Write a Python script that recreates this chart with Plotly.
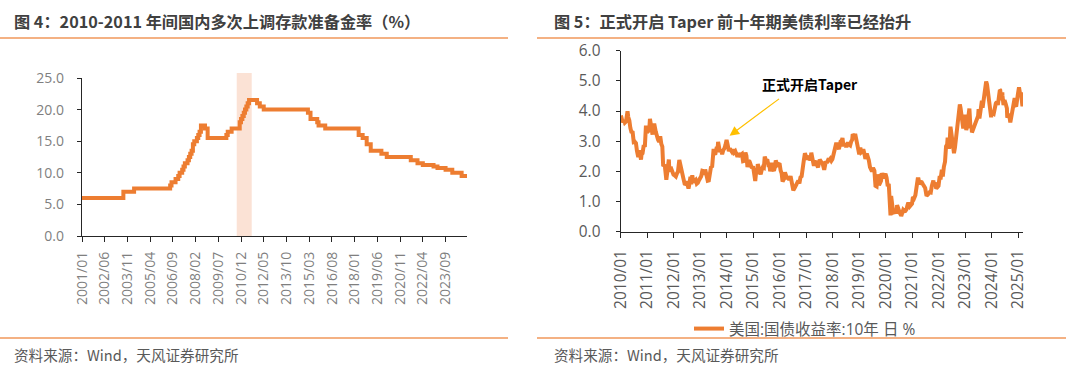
import plotly.graph_objects as go

# ---------------- data: left chart (RRR, %) ----------------
rrr_dates = ["2001-01-01", "2003-08-01", "2004-04-01", "2006-07-01", "2006-08-01", "2006-11-01",
             "2007-01-01", "2007-02-01", "2007-04-01", "2007-05-01", "2007-06-01", "2007-08-01",
             "2007-09-01", "2007-10-01", "2007-11-01", "2007-12-01", "2008-01-01", "2008-03-01",
             "2008-04-01", "2008-05-01", "2008-06-01", "2008-09-01", "2008-11-01", "2010-01-01",
             "2010-02-01", "2010-05-01", "2010-11-01", "2010-12-01", "2011-01-01", "2011-02-01",
             "2011-03-01", "2011-04-01", "2011-05-01", "2011-06-01", "2011-12-01", "2012-02-01",
             "2012-05-01", "2015-02-01", "2015-04-01", "2015-09-01", "2015-10-01", "2016-03-01",
             "2018-04-01", "2018-07-01", "2018-10-01", "2019-01-01", "2019-09-01", "2020-01-01",
             "2021-07-01", "2021-12-01", "2022-04-01", "2022-12-01", "2023-03-01", "2023-09-01",
             "2024-02-01", "2024-09-01", "2025-01-01"]
rrr_values = [6.0, 7.0, 7.5, 8.0, 8.5, 9.0,
              9.5, 10.0, 10.5, 11.0, 11.5, 12.0,
              12.5, 13.0, 13.5, 14.5, 15.0, 15.5,
              16.0, 16.5, 17.5, 17.0, 15.5, 16.0,
              16.5, 17.0, 18.0, 18.5, 19.0, 19.5,
              20.0, 20.5, 21.0, 21.5, 21.0, 20.5,
              20.0, 19.5, 18.5, 18.0, 17.5, 17.0,
              16.0, 15.5, 14.5, 13.5, 13.0, 12.5,
              12.0, 11.5, 11.25, 11.0, 10.75, 10.5,
              10.0, 9.5, 9.5]
left_ticks = ["2001/01", "2002/06", "2003/11", "2005/04", "2006/09", "2008/02", "2009/07",
              "2010/12", "2012/05", "2013/10", "2015/03", "2016/08", "2018/01", "2019/06",
              "2020/11", "2022/04", "2023/09"]
left_yticks = [0, 5, 10, 15, 20, 25]

# ---------------- data: right chart (US 10Y yield, %) ----------------
ust_dates = [
    "2010-01-04", "2010-01-15", "2010-01-29", "2010-02-12", "2010-02-26", "2010-03-15", "2010-03-31",
    "2010-04-05", "2010-04-15", "2010-04-30", "2010-05-14", "2010-05-28", "2010-06-15", "2010-06-30",
    "2010-07-15", "2010-07-30", "2010-08-13", "2010-08-25", "2010-08-31", "2010-09-15", "2010-09-30",
    "2010-10-08", "2010-10-15", "2010-10-29", "2010-11-15", "2010-11-30", "2010-12-15", "2010-12-31",
    "2011-01-14", "2011-01-31", "2011-02-08", "2011-02-28", "2011-03-16", "2011-03-31", "2011-04-08",
    "2011-04-29", "2011-05-13", "2011-05-31", "2011-06-15", "2011-06-30", "2011-07-15", "2011-07-29",
    "2011-08-10", "2011-08-31", "2011-09-22", "2011-09-30", "2011-10-27", "2011-10-31", "2011-11-15",
    "2011-11-30", "2011-12-15", "2011-12-30",
    "2012-01-13", "2012-01-31", "2012-02-15", "2012-02-29", "2012-03-19", "2012-03-30", "2012-04-16",
    "2012-04-30", "2012-05-15", "2012-05-31", "2012-06-15", "2012-06-29", "2012-07-24", "2012-07-31",
    "2012-08-20", "2012-08-31", "2012-09-14", "2012-09-28", "2012-10-15", "2012-10-31", "2012-11-15",
    "2012-11-30", "2012-12-14", "2012-12-31",
    "2013-01-15", "2013-01-31", "2013-02-15", "2013-02-28", "2013-03-11", "2013-03-29", "2013-04-15",
    "2013-04-30", "2013-05-15", "2013-05-31", "2013-06-14", "2013-06-28", "2013-07-05", "2013-07-15",
    "2013-07-31", "2013-08-15", "2013-08-30", "2013-09-05", "2013-09-18", "2013-09-30", "2013-10-15",
    "2013-10-31", "2013-11-15", "2013-11-29", "2013-12-16", "2013-12-31",
    "2014-01-15", "2014-01-31", "2014-02-14", "2014-02-28", "2014-03-14", "2014-03-31", "2014-04-15",
    "2014-04-30", "2014-05-15", "2014-05-30", "2014-06-13", "2014-06-30", "2014-07-15", "2014-07-31",
    "2014-08-15", "2014-08-29", "2014-09-17", "2014-09-30", "2014-10-15", "2014-10-31", "2014-11-14",
    "2014-11-28", "2014-12-15", "2014-12-31",
    "2015-01-15", "2015-01-30", "2015-02-13", "2015-02-27", "2015-03-06", "2015-03-31", "2015-04-15",
    "2015-04-30", "2015-05-15", "2015-05-29", "2015-06-10", "2015-06-30", "2015-07-15", "2015-07-31",
    "2015-08-14", "2015-08-24", "2015-08-31", "2015-09-15", "2015-09-30", "2015-10-15", "2015-10-30",
    "2015-11-09", "2015-11-30", "2015-12-15", "2015-12-31",
    "2016-01-15", "2016-01-29", "2016-02-11", "2016-02-29", "2016-03-15", "2016-03-31", "2016-04-15",
    "2016-04-29", "2016-05-13", "2016-05-31", "2016-06-15", "2016-06-30", "2016-07-08", "2016-07-29",
    "2016-08-15", "2016-08-31", "2016-09-15", "2016-09-30", "2016-10-14", "2016-10-31", "2016-11-15",
    "2016-11-30", "2016-12-15", "2016-12-30",
    "2017-01-13", "2017-01-31", "2017-02-15", "2017-02-28", "2017-03-13", "2017-03-31", "2017-04-18",
    "2017-04-28", "2017-05-15", "2017-05-31", "2017-06-14", "2017-06-30", "2017-07-07", "2017-07-31",
    "2017-08-15", "2017-08-31", "2017-09-07", "2017-09-29", "2017-10-13", "2017-10-31", "2017-11-15",
    "2017-11-30", "2017-12-15", "2017-12-29",
    "2018-01-12", "2018-01-31", "2018-02-21", "2018-02-28", "2018-03-15", "2018-03-29", "2018-04-25",
    "2018-04-30", "2018-05-17", "2018-05-31", "2018-06-15", "2018-06-29", "2018-07-16", "2018-07-31",
    "2018-08-15", "2018-08-31", "2018-09-14", "2018-09-28", "2018-10-05", "2018-10-31", "2018-11-08",
    "2018-11-30", "2018-12-14", "2018-12-31",
    "2019-01-03", "2019-01-18", "2019-01-31", "2019-02-15", "2019-02-28", "2019-03-15", "2019-03-29",
    "2019-04-17", "2019-04-30", "2019-05-15", "2019-05-31", "2019-06-14", "2019-06-28", "2019-07-12",
    "2019-07-31", "2019-08-15", "2019-08-30", "2019-09-13", "2019-09-30", "2019-10-03", "2019-10-31",
    "2019-11-08", "2019-11-29", "2019-12-13", "2019-12-31",
    "2020-01-15", "2020-01-31", "2020-02-14", "2020-02-28", "2020-03-09", "2020-03-18", "2020-03-31",
    "2020-04-15", "2020-04-30", "2020-05-15", "2020-05-29", "2020-06-08", "2020-06-30", "2020-07-15",
    "2020-07-31", "2020-08-04", "2020-08-31", "2020-09-15", "2020-09-30", "2020-10-15", "2020-10-30",
    "2020-11-10", "2020-11-30", "2020-12-15", "2020-12-31",
    "2021-01-12", "2021-01-29", "2021-02-15", "2021-02-26", "2021-03-19", "2021-03-31", "2021-04-15",
    "2021-04-30", "2021-05-14", "2021-05-28", "2021-06-15", "2021-06-30", "2021-07-19", "2021-07-30",
    "2021-08-16", "2021-08-31", "2021-09-15", "2021-09-30", "2021-10-21", "2021-10-29", "2021-11-15",
    "2021-11-30", "2021-12-15", "2021-12-31",
    "2022-01-14", "2022-01-31", "2022-02-15", "2022-02-28", "2022-03-15", "2022-03-31", "2022-04-14",
    "2022-04-29", "2022-05-06", "2022-05-26", "2022-05-31", "2022-06-14", "2022-06-30", "2022-07-15",
    "2022-07-29", "2022-08-01", "2022-08-15", "2022-08-31", "2022-09-15", "2022-09-30", "2022-10-21",
    "2022-10-31", "2022-11-15", "2022-11-30", "2022-12-07", "2022-12-30",
    "2023-01-18", "2023-01-31", "2023-02-15", "2023-02-28", "2023-03-02", "2023-03-17", "2023-03-31",
    "2023-04-06", "2023-04-28", "2023-05-15", "2023-05-31", "2023-06-15", "2023-06-30", "2023-07-07",
    "2023-07-18", "2023-07-31", "2023-08-21", "2023-08-31", "2023-09-15", "2023-09-29", "2023-10-19",
    "2023-10-31", "2023-11-15", "2023-11-30", "2023-12-15", "2023-12-27", "2023-12-29",
    "2024-01-12", "2024-01-31", "2024-02-15", "2024-02-29", "2024-03-15", "2024-03-28", "2024-04-25",
    "2024-04-30", "2024-05-15", "2024-05-29", "2024-05-31", "2024-06-14", "2024-06-28", "2024-07-15",
    "2024-07-31", "2024-08-05", "2024-08-30", "2024-09-16", "2024-09-30", "2024-10-15", "2024-10-31",
    "2024-11-15", "2024-11-29", "2024-12-06", "2024-12-31",
    "2025-01-14", "2025-01-31", "2025-02-12", "2025-02-28", "2025-03-03", "2025-03-06", "2025-03-10"]
ust_values = [
    3.85, 3.68, 3.63, 3.69, 3.61, 3.65, 3.84,
    3.99, 3.80, 3.69, 3.44, 3.31, 3.29, 2.97,
    2.98, 2.94, 2.68, 2.50, 2.47, 2.70, 2.51,
    2.39, 2.56, 2.60, 2.87, 2.81, 3.52, 3.30,
    3.33, 3.42, 3.74, 3.43, 3.22, 3.47, 3.58,
    3.32, 3.17, 3.05, 2.98, 3.16, 2.91, 2.82,
    2.17, 2.22, 1.72, 1.92, 2.39, 2.17, 2.06,
    2.08, 1.91, 1.89,
    1.87, 1.83, 1.93, 1.98, 2.38, 2.23, 1.99,
    1.95, 1.76, 1.59, 1.58, 1.67, 1.43, 1.51,
    1.82, 1.57, 1.87, 1.65, 1.67, 1.72, 1.59,
    1.62, 1.70, 1.78,
    1.84, 2.02, 2.01, 1.89, 2.06, 1.87, 1.69,
    1.70, 1.94, 2.16, 2.13, 2.52, 2.74, 2.59,
    2.60, 2.77, 2.78, 2.98, 2.70, 2.64, 2.73,
    2.57, 2.70, 2.75, 2.88, 3.04,
    2.88, 2.67, 2.75, 2.66, 2.65, 2.73, 2.63,
    2.67, 2.50, 2.48, 2.60, 2.53, 2.55, 2.58,
    2.34, 2.35, 2.62, 2.52, 2.14, 2.35, 2.32,
    2.18, 2.11, 2.17,
    1.77, 1.68, 2.02, 2.00, 2.24, 1.94, 1.90,
    2.05, 2.14, 2.12, 2.49, 2.35, 2.40, 2.20,
    2.20, 2.00, 2.22, 2.28, 2.06, 2.02, 2.16,
    2.36, 2.21, 2.27, 2.27,
    2.03, 1.94, 1.66, 1.74, 1.97, 1.78, 1.75,
    1.83, 1.71, 1.84, 1.58, 1.49, 1.37, 1.46,
    1.55, 1.58, 1.69, 1.60, 1.80, 1.84, 2.22,
    2.37, 2.60, 2.45,
    2.40, 2.45, 2.50, 2.36, 2.62, 2.40, 2.18,
    2.29, 2.34, 2.21, 2.13, 2.31, 2.39, 2.30,
    2.27, 2.12, 2.05, 2.33, 2.28, 2.38, 2.37,
    2.42, 2.35, 2.40,
    2.55, 2.72, 2.95, 2.87, 2.82, 2.74, 3.03,
    2.95, 3.11, 2.83, 2.93, 2.85, 2.85, 2.96,
    2.89, 2.86, 2.99, 3.05, 3.23, 3.15, 3.24,
    3.01, 2.89, 2.69,
    2.56, 2.79, 2.63, 2.66, 2.73, 2.59, 2.41,
    2.59, 2.51, 2.37, 2.14, 2.09, 2.00, 2.12,
    2.02, 1.52, 1.50, 1.90, 1.68, 1.54, 1.69,
    1.94, 1.78, 1.82, 1.92,
    1.79, 1.51, 1.59, 1.13, 0.54, 1.18, 0.70,
    0.63, 0.64, 0.64, 0.65, 0.88, 0.66, 0.62,
    0.55, 0.52, 0.72, 0.68, 0.69, 0.74, 0.88,
    0.96, 0.84, 0.92, 0.93,
    1.15, 1.11, 1.21, 1.44, 1.74, 1.74, 1.57,
    1.65, 1.64, 1.58, 1.50, 1.45, 1.19, 1.24,
    1.26, 1.31, 1.30, 1.52, 1.70, 1.55, 1.63,
    1.43, 1.46, 1.52,
    1.79, 1.79, 2.05, 1.83, 2.15, 2.32, 2.83,
    2.89, 3.12, 2.75, 2.85, 3.48, 2.98, 2.93,
    2.67, 2.60, 2.79, 3.15, 3.45, 3.83, 4.22,
    4.10, 3.80, 3.68, 3.42, 3.88,
    3.37, 3.52, 3.81, 3.92, 4.08, 3.43, 3.48,
    3.29, 3.44, 3.50, 3.64, 3.72, 3.84, 4.06,
    3.75, 3.97, 4.34, 4.11, 4.33, 4.59, 4.98,
    4.88, 4.53, 4.37, 3.91, 3.79, 3.88,
    3.94, 3.91, 4.23, 4.25, 4.31, 4.20, 4.70,
    4.69, 4.36, 4.62, 4.51, 4.20, 4.36, 4.23,
    4.09, 3.78, 3.91, 3.62, 3.81, 4.03, 4.28,
    4.43, 4.17, 4.15, 4.58,
    4.79, 4.54, 4.62, 4.21, 4.16, 4.28, 4.22]
right_ticks = ["2010/01", "2011/01", "2012/01", "2013/01", "2014/01", "2015/01", "2016/01", "2017/01",
               "2018/01", "2019/01", "2020/01", "2021/01", "2022/01", "2023/01", "2024/01", "2025/01"]
right_yticks = [0, 1, 2, 3, 4, 5, 6]

# ---------------- styling ----------------
W, H = 1080, 368
ORANGE = "#ED7D31"
LINE_ORANGE = "#F4B183"
FONT = "Open Sans, Noto Sans CJK SC, sans-serif"
CJK = "Noto Sans CJK SC, sans-serif"
AX = "#262626"


def px(x):
    return x / W


def py(y):
    return 1 - y / H


def tick_dates(labels):
    return [lab.replace("/", "-") + "-01" for lab in labels]


fig = go.Figure()
fig.add_trace(go.Scatter(x=rrr_dates, y=rrr_values, mode="lines", line=dict(color=ORANGE, width=4, shape="hv"),
                         xaxis="x", yaxis="y", showlegend=False, name="存款准备金率"))
fig.add_trace(go.Scatter(x=ust_dates, y=ust_values, mode="lines", line=dict(color=ORANGE, width=4),
                         xaxis="x2", yaxis="y2", name="美国:国债收益率:10年 日 %"))

common_x = dict(type="date", showline=True, linecolor=AX, linewidth=1.3, ticks="outside", ticklen=5,
                tickcolor=AX, tickwidth=1.3, showgrid=False, zeroline=False, tickangle=-90, automargin=False)
common_y = dict(showline=True, linecolor=AX, linewidth=1.3, ticks="outside", ticklen=4, tickcolor=AX,
                tickwidth=1.3, showgrid=False, zeroline=False, tickformat=".1f", automargin=False)

fig.update_layout(
    width=W, height=H, autosize=False,
    margin=dict(l=0, r=0, t=0, b=0),
    paper_bgcolor="white", plot_bgcolor="white",
    font=dict(family=FONT, color="#595959"),
    xaxis=dict(common_x, domain=[px(82), px(467)], anchor="y", range=["2001-01-01", "2025-01-01"],
               tickvals=tick_dates(left_ticks), ticktext=left_ticks, ticklabelstandoff=4,
               tickfont=dict(size=14, color="#7F7F7F", family=FONT)),
    yaxis=dict(common_y, domain=[py(236), py(78)], anchor="x", range=[0, 25], tickvals=left_yticks,
               tickfont=dict(size=14, color="#7F7F7F", family=FONT), ticklabelstandoff=10),
    xaxis2=dict(common_x, domain=[px(620.7), px(1023)], anchor="y2", range=["2010-01-01", "2025-03-10"],
                tickvals=tick_dates(right_ticks), ticktext=right_ticks, ticklabelstandoff=6,
                tickfont=dict(size=15.5, color="#595959", family=FONT)),
    yaxis2=dict(common_y, domain=[py(231.7), py(50.7)], anchor="x2", range=[0, 6], tickvals=right_yticks,
                tickfont=dict(size=15.4, color="#595959", family=FONT), ticklabelstandoff=12),
    legend=dict(orientation="h", x=px(689), xanchor="left", y=py(329), yanchor="middle",
                font=dict(size=15.5, color="#595959", family=FONT), bgcolor="rgba(0,0,0,0)",
                itemwidth=30),
    showlegend=True,
)

shapes = [
    # highlight 2010-2011
    dict(type="rect", xref="x", yref="paper", x0="2010-08-25", x1="2011-08-01", y0=py(236), y1=py(73),
         fillcolor="#FBE2D5", line=dict(width=0), layer="below"),
    # title underlines
    dict(type="line", xref="paper", yref="paper", x0=0, x1=px(508), y0=py(38), y1=py(38),
         line=dict(color=LINE_ORANGE, width=2)),
    dict(type="line", xref="paper", yref="paper", x0=px(537), x1=px(1066), y0=py(38), y1=py(38),
         line=dict(color=LINE_ORANGE, width=2)),
    # bottom lines
    dict(type="line", xref="paper", yref="paper", x0=0, x1=px(508), y0=py(338), y1=py(338),
         line=dict(color=LINE_ORANGE, width=2)),
    dict(type="line", xref="paper", yref="paper", x0=px(537), x1=px(1066), y0=py(338), y1=py(338),
         line=dict(color=LINE_ORANGE, width=2)),
]
fig.update_layout(shapes=shapes)

annotations = [
    dict(text="<b>图 4：2010-2011 年间国内多次上调存款准备金率（%）</b>", xref="paper", yref="paper",
         x=px(12), y=py(21), xanchor="left", yanchor="middle", showarrow=False,
         font=dict(size=16.2, color="#404040", family=CJK)),
    dict(text="<b>图 5：正式开启 Taper 前十年期美债利率已经抬升</b>", xref="paper", yref="paper",
         x=px(552), y=py(21), xanchor="left", yanchor="middle", showarrow=False,
         font=dict(size=16.2, color="#404040", family=CJK)),
    dict(text="资料来源：Wind，天风证券研究所", xref="paper", yref="paper", x=px(12), y=py(354),
         xanchor="left", yanchor="middle", showarrow=False, font=dict(size=14.6, color="#595959", family=CJK)),
    dict(text="资料来源：Wind，天风证券研究所", xref="paper", yref="paper", x=px(552), y=py(354),
         xanchor="left", yanchor="middle", showarrow=False, font=dict(size=14.6, color="#595959", family=CJK)),
    # Taper label
    dict(text="<b>正式开启Taper</b>", xref="paper", yref="paper", x=px(810), y=py(84),
         xanchor="center", yanchor="middle", showarrow=False, font=dict(size=14, color="#000000", family=CJK)),
    # arrow
    dict(text="", x="2014-02-10", y=3.18, xref="x2", yref="y2", showarrow=True, axref="pixel", ayref="pixel",
         ax=51, ay=-38, arrowhead=2, arrowsize=1.6, arrowwidth=1.2, arrowcolor="#FFC000", standoff=0),
]
fig.update_layout(annotations=annotations)

fig.write_html("out.html", config={"displayModeBar": False},
               post_script="document.body.style.margin='0';document.body.style.overflow='hidden';")
